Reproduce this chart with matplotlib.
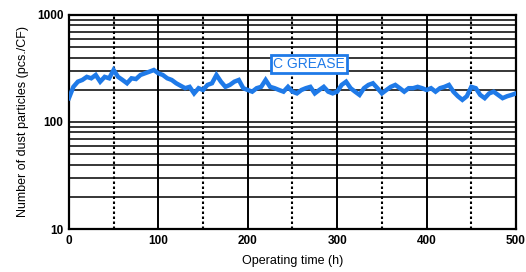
import matplotlib
matplotlib.use("Agg")
import matplotlib.pyplot as plt
from matplotlib.ticker import LogLocator, NullFormatter, FixedLocator

hours = list(range(0, 501, 5))
particles = [
    167, 213, 238, 247, 264, 256, 275, 238, 264, 256,
    306, 264, 247, 230, 256, 252, 275, 285, 295, 306,
    285, 275, 256, 247, 230, 218, 207, 213, 185, 207,
    199, 222, 230, 275, 238, 213, 222, 238, 247, 207,
    199, 192, 207, 213, 247, 213, 207, 199, 192, 213,
    192, 185, 199, 207, 213, 185, 199, 213, 192, 185,
    192, 222, 238, 207, 192, 179, 207, 222, 230, 207,
    185, 199, 213, 222, 207, 192, 207, 207, 213, 207,
    199, 207, 192, 207, 213, 222, 192, 174, 161, 174,
    213, 207, 179, 167, 185, 192, 179, 167, 174, 179,
    185,
]
x_ticks = [0, 100, 200, 300, 400, 500]
y_ticks = [10, 100, 1000]
label_text = "C GREASE"

blue = "#1f7ae8"

fig = plt.figure(figsize=(5.26, 2.72), dpi=100)
ax = fig.add_axes([0.131, 0.158, 0.850, 0.787])
ax.set_yscale("log")
ax.set_xlim(0, 500)
ax.set_ylim(10, 1000)

ax.yaxis.set_major_locator(FixedLocator(y_ticks))
ax.yaxis.set_minor_locator(LogLocator(base=10, subs=range(2, 10)))
ax.yaxis.set_minor_formatter(NullFormatter())
ax.set_yticks(y_ticks)
ax.set_yticklabels([str(v) for v in y_ticks])
ax.set_xticks(x_ticks)
ax.set_xticklabels([str(v) for v in x_ticks])
ax.set_xticks([50, 150, 250, 350, 450], minor=True)

ax.grid(True, which="major", axis="x", color="black", lw=1.4, ls="-")
ax.grid(True, which="minor", axis="x", color="black", lw=1.5, ls=(0, (1.2, 1.2)))
ax.grid(True, which="both", axis="y", color="black", lw=1.1, ls="-")
ax.set_axisbelow(True)

ax.tick_params(which="both", length=0, pad=4, labelsize=8.5)
for lab in ax.get_xticklabels() + ax.get_yticklabels():
    lab.set_fontweight("bold")
    lab.set_family("Liberation Sans")
for sp in ax.spines.values():
    sp.set_linewidth(1.6)

ax.plot(hours, particles, color=blue, lw=3.2, solid_joinstyle="miter", zorder=3)

ax.text(268, 348, label_text, color=blue, fontsize=10, family="Liberation Sans",
        ha="center", va="center", zorder=4,
        bbox=dict(boxstyle="square,pad=0.15", fc="white", ec=blue, lw=2.0))

ax.set_xlabel("Operating time (h)", fontsize=9, family="Liberation Sans", labelpad=6)
ax.set_ylabel("Number of dust particles (pcs./CF)", fontsize=9, family="Liberation Sans", labelpad=6)

fig.savefig("out.png", dpi=100)
